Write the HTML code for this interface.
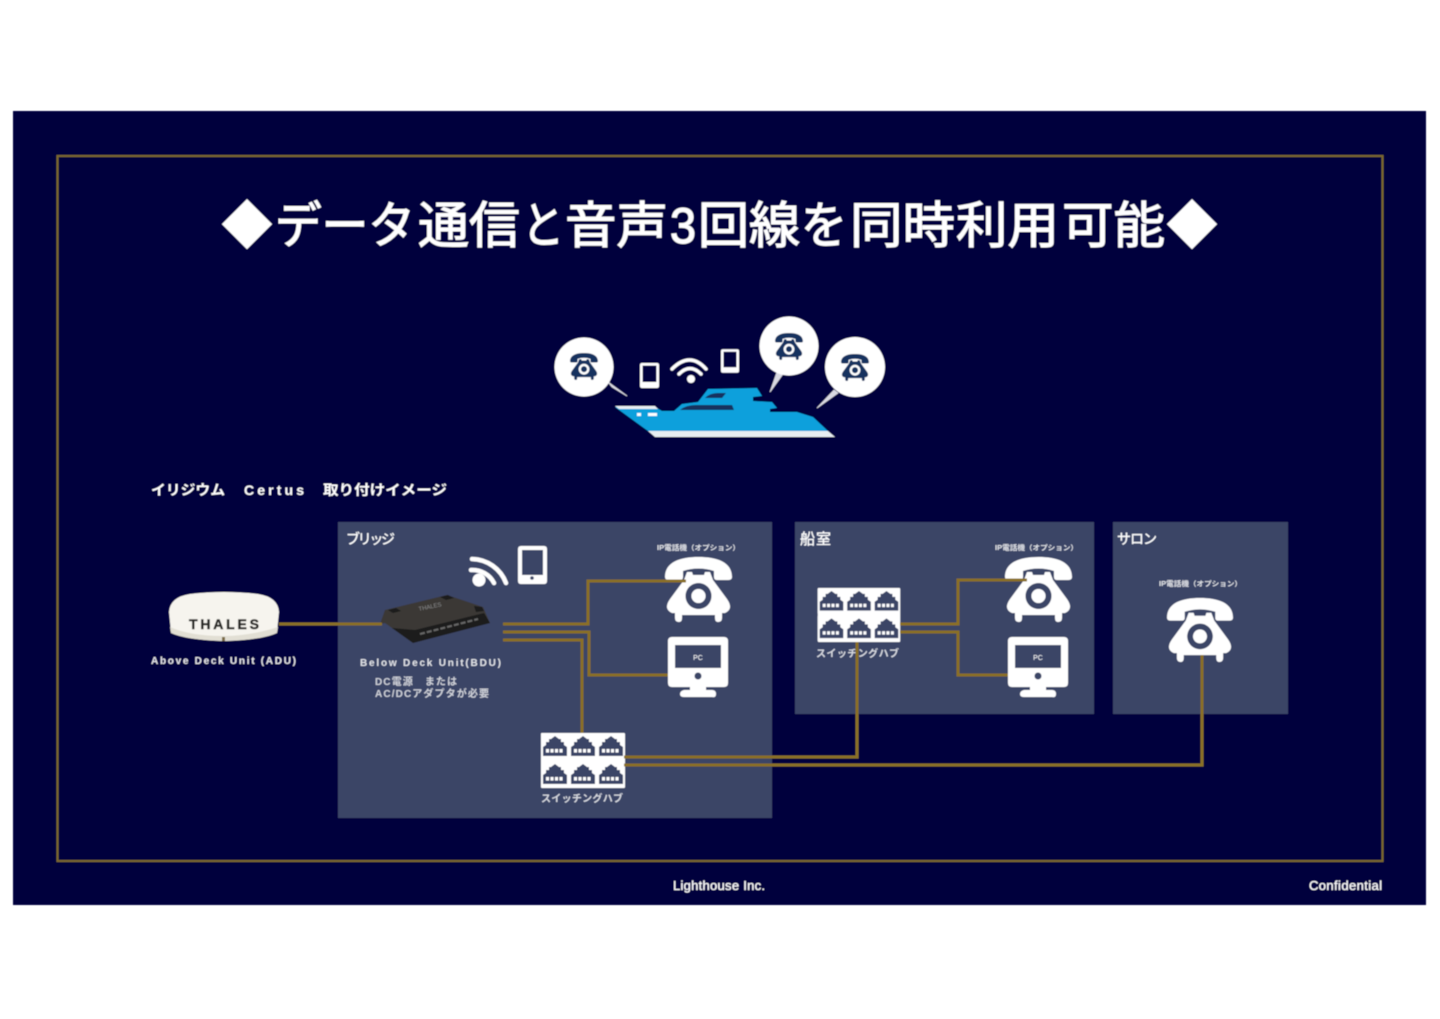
<!DOCTYPE html>
<html lang="ja"><head><meta charset="utf-8"><title>データ通信と音声3回線を同時利用可能</title>
<style>
html,body{margin:0;padding:0;background:#fff;width:1440px;height:1019px;overflow:hidden}
svg{display:block;position:absolute;left:0;top:0}
text{font-family:"Liberation Sans","Noto Sans CJK JP",sans-serif;fill:#fff}
.b{font-weight:700}
.t{font-weight:400;stroke:#fff;stroke-width:1}
.g{fill:none;stroke:#8a6f25;stroke-width:3}
</style></head><body>
<svg width="1440" height="1019" viewBox="0 0 1440 1019" xmlns="http://www.w3.org/2000/svg">
<defs>
<filter id="s" x="-2%" y="-2%" width="104%" height="104%"><feGaussianBlur stdDeviation="0.6"/></filter>
<symbol id="phone" viewBox="0 0 67 65" overflow="visible">
<path d="M0 20C0 5 15 0 33.500 0C52 0 67 5 67 20Q67 23 63 23H52Q49 23 49 20V14Q33.500 9 18 14V20Q18 23 15 23H4Q0 23 0 20Z"/>
<path fill-rule="evenodd" d="M19 23L22 15H27L28 18H39L40 15H45L48 23L62 42Q69 52 60 56H57V61Q57 65 53 65Q50 65 50 61V58H17V61Q17 65 14 65Q10 65 10 61V56H7Q-2 52 5 42ZM33.500 26a13 13 0 1 0 .01 0ZM33.500 32a7 7 0 1 1 -.01 0Z"/>
<circle cx="33.500" cy="39" r="7"/>
</symbol>
<symbol id="pc" viewBox="0 0 60 60" overflow="visible">
<path fill-rule="evenodd" d="M4 0H56Q60 0 60 4V46Q60 50 56 50H4Q0 50 0 46V4Q0 0 4 0ZM7 8V31H53V8Z"/>
<circle cx="30" cy="39" r="3.500" fill="#3b4566"/>
<path d="M22 49H38V53H44Q48 53 48 57T44 60H16Q12 60 12 57T16 53H22Z"/>
</symbol>
<symbol id="cell" viewBox="0 0 28 27" overflow="visible">
<rect width="27.500" height="26.500" fill="#fff" rx="1"/>
<path d="M14 3L18 6H20V9H23V12L26 14V23H2V14L5 12V9H8V6H10Z" fill="#3b4566"/>
<g fill="#fff"><rect x="5" y="16" width="3" height="3.500"/><rect x="9.500" y="16" width="3" height="3.500"/><rect x="14" y="16" width="3" height="3.500"/><rect x="18.500" y="16" width="3" height="3.500"/></g>
</symbol>
<symbol id="hub" viewBox="0 0 84 55" overflow="visible">
<rect width="84" height="55" fill="#fff" rx="1"/>
<use href="#cell" width="28" height="27"/><use href="#cell" x="28" width="28" height="27"/><use href="#cell" x="56" width="28" height="27"/>
<use href="#cell" y="28" width="28" height="27"/><use href="#cell" x="28" y="28" width="28" height="27"/><use href="#cell" x="56" y="28" width="28" height="27"/>
</symbol>
<symbol id="tablet" viewBox="0 0 29 38" overflow="visible">
<path fill-rule="evenodd" d="M3 0H26Q29 0 29 3V35Q29 38 26 38H3Q0 38 0 35V3Q0 0 3 0ZM4 4V29H25V4Z"/>
</symbol>
</defs>

<g filter="url(#s)">
<rect x="13" y="111" width="1413" height="794" fill="#04043c"/>
<rect x="57.500" y="156" width="1325" height="705" fill="none" stroke="#7a682f" stroke-width="2"/>

<g font-size="50">
<text class="t" x="222" y="243" textLength="50" lengthAdjust="spacingAndGlyphs">◆</text>
<text class="t" x="275" y="243" textLength="140" lengthAdjust="spacingAndGlyphs">データ</text>
<text class="t" x="418" y="243" textLength="102" lengthAdjust="spacingAndGlyphs">通信</text>
<text class="t" x="522" y="243" textLength="42" lengthAdjust="spacingAndGlyphs">と</text>
<text class="t" x="565" y="243" textLength="103" lengthAdjust="spacingAndGlyphs">音声</text>
<text class="t" x="670" y="243" textLength="26" lengthAdjust="spacingAndGlyphs">3</text>
<text class="t" x="698" y="243" textLength="102" lengthAdjust="spacingAndGlyphs">回線</text>
<text class="t" x="801" y="243" textLength="46" lengthAdjust="spacingAndGlyphs">を</text>
<text class="t" x="850" y="243" textLength="105" lengthAdjust="spacingAndGlyphs">同時</text>
<text class="t" x="956" y="243" textLength="103" lengthAdjust="spacingAndGlyphs">利用</text>
<text class="t" x="1062" y="243" textLength="103" lengthAdjust="spacingAndGlyphs">可能</text>
<text class="t" x="1167" y="243" textLength="50" lengthAdjust="spacingAndGlyphs">◆</text>
</g>

<!-- ship -->
<path d="M615 407H655L662 411H674L682 404L698 402L708 389L757 388L762 396L753 397V401L772 402L777 408L770 409V412H797L813 417L828 431H648Z" fill="#0aa0dc"/>
<path d="M648 431H828L835 437H655Z" fill="#e8eef2"/>
<path d="M615 406H655L658 409H619Z" fill="#e8eef2"/>
<path d="M705 398Q710 393 718 393H726L722 398Z" fill="#17305e"/>
<path d="M680 410Q686 405 696 405H732L734 410Z" fill="#17305e"/>
<rect x="637" y="413" width="4" height="3" fill="#fff"/><rect x="648" y="413" width="9" height="3" fill="#fff"/>
<path d="M608 382L627 396L612 387Z" fill="#fff" stroke="#fff" stroke-width=".8" opacity=".85"/>
<path d="M777 372L770 392L783 374Z" fill="#fff" stroke="#fff" stroke-width=".8" opacity=".85"/>
<path d="M834 390L817 408L838 393Z" fill="#fff" stroke="#fff" stroke-width=".8" opacity=".85"/>
<circle cx="584" cy="367" r="29.500" fill="#fff"/>
<circle cx="789" cy="346" r="29.500" fill="#fff"/>
<circle cx="855" cy="367" r="30" fill="#fff"/>
<use href="#phone" x="570" y="353" width="28" height="27" fill="#17305e"/>
<use href="#phone" x="775" y="333" width="28" height="27" fill="#17305e"/>
<use href="#phone" x="841" y="354" width="28" height="27" fill="#17305e"/>
<use href="#tablet" x="640" y="363" width="19" height="25" fill="#fff"/>
<use href="#tablet" x="721" y="349" width="18" height="24" fill="#fff"/>
<circle cx="691" cy="379" r="4" fill="#fff"/>
<path d="M672 369Q690 351 706 369M679 374Q690 363 701 374" fill="none" stroke="#fff" stroke-width="3.400" stroke-linecap="round"/>

<text class="b" x="151" y="495" font-size="14" textLength="74" lengthAdjust="spacingAndGlyphs">イリジウム</text>
<text class="b" x="244" y="495" font-size="14" textLength="60" lengthAdjust="spacing">Certus</text>
<text class="b" x="323" y="495" font-size="14" textLength="124" lengthAdjust="spacingAndGlyphs">取り付けイメージ</text>

<!-- panels -->
<rect x="338" y="522" width="434" height="296" fill="#3b4566"/>
<rect x="795" y="522" width="299" height="192" fill="#3b4566"/>
<rect x="1113" y="522" width="175" height="192" fill="#3b4566"/>
<text x="346" y="544" font-size="14" textLength="49" lengthAdjust="spacing" stroke="#fff" stroke-width=".3">ブリッジ</text>
<text x="800" y="544" font-size="15" textLength="31" lengthAdjust="spacing" stroke="#fff" stroke-width=".3">船室</text>
<text x="1117" y="544" font-size="14" textLength="40" lengthAdjust="spacing" stroke="#fff" stroke-width=".3">サロン</text>

<!-- dome -->
<path d="M169 612Q170 597 190 594Q224 590 258 594Q278 597 279 612L277 632Q262 640 224 641Q186 640 171 632Z" fill="#f6f4ee"/>
<path d="M171 633Q186 640 224 641Q262 640 277 633L278 627Q250 636 224 636Q190 636 170 627Z" fill="#e2dfd4"/>
<text class="b" x="189" y="629" font-size="14" textLength="70" lengthAdjust="spacing" stroke="#222" stroke-width=".5" style="fill:#2a2a28">THALES</text>
<rect x="222" y="637" width="3" height="4" fill="#7a6a45"/>
<text class="b" x="151" y="664" font-size="10" textLength="145" lengthAdjust="spacing" opacity=".9">Above Deck Unit (ADU)</text>

<!-- BDU -->
<path d="M385 610L447 595L483 607L490 623L413 643L385 623L380 624Z" fill="#3a3836"/>
<path d="M392 628L413 643L490 623L484 613L415 630Z" fill="#1f1e1d"/>
<path d="M388 610l8-2 5 3-8 2ZM440 597l8-2 6 3-8 2ZM474 606l8 1 2 4-8 1Z" fill="#1a1a1a"/>
<path d="M420 634L478 619" stroke="#666" stroke-width="2" stroke-dasharray="5 2"/>
<text x="419" y="611" font-size="6" transform="rotate(-12 419 611)" style="fill:#888">THALES</text>
<text class="b" x="360" y="666" font-size="10" textLength="141" lengthAdjust="spacing" opacity=".85">Below Deck Unit(BDU)</text>
<text class="b" x="375" y="685" font-size="10" textLength="82" lengthAdjust="spacing" opacity=".75">DC電源　または</text>
<text class="b" x="375" y="697" font-size="10" textLength="114" lengthAdjust="spacing" opacity=".75">AC/DCアダプタが必要</text>

<!-- wifi + tablet -->
<circle cx="479" cy="580" r="6.500" fill="#fff"/>
<path d="M471 570A24 24 0 0 1 494 583M472 559A37 37 0 0 1 506 583" fill="none" stroke="#fff" stroke-width="4.500" stroke-linecap="round"/>
<use href="#tablet" x="518" y="546" width="29" height="38" fill="#fff"/>
<circle cx="532" cy="578" r="1.800" fill="#3b4566"/>

<!-- devices -->
<use href="#phone" x="665" y="557" width="67" height="65" fill="#fff"/>
<use href="#pc" x="668" y="637" width="60" height="60" fill="#fff"/>
<text x="698" y="660" font-size="7" text-anchor="middle">PC</text>
<text class="b" x="657" y="550" font-size="7" textLength="83" lengthAdjust="spacingAndGlyphs" opacity=".85">IP電話機（オプション）</text>

<use href="#phone" x="1005" y="557" width="67" height="65" fill="#fff"/>
<use href="#pc" x="1008" y="637" width="60" height="60" fill="#fff"/>
<text x="1038" y="660" font-size="7" text-anchor="middle">PC</text>
<text class="b" x="995" y="550" font-size="7" textLength="83" lengthAdjust="spacingAndGlyphs" opacity=".85">IP電話機（オプション）</text>

<use href="#phone" x="1167" y="598" width="66" height="64" fill="#fff"/>
<text class="b" x="1159" y="586" font-size="7" textLength="83" lengthAdjust="spacingAndGlyphs" opacity=".85">IP電話機（オプション）</text>

<!-- hubs -->
<use href="#hub" x="541" y="733" width="84" height="55"/>
<text class="b" x="541" y="802" font-size="10" textLength="82" lengthAdjust="spacing" opacity=".8">スイッチングハブ</text>
<use href="#hub" x="817" y="588" width="84" height="54"/>
<text class="b" x="816" y="657" font-size="10" textLength="83" lengthAdjust="spacing" opacity=".8">スイッチングハブ</text>

<!-- connectors -->
<path class="g" d="M279 624H382"/>
<path class="g" d="M503 624H588V581H686"/>
<path class="g" d="M503 632H589V675H668"/>
<path class="g" d="M503 640H582V733"/>
<path class="g" d="M624 757H857V642"/>
<path class="g" d="M624 765H1202V655"/>
<path class="g" d="M900 624H958V580H1027"/>
<path class="g" d="M900 632H958V675H1008"/>

<text x="673" y="890" font-size="13" textLength="92" lengthAdjust="spacing" stroke="#fff" stroke-width=".25">Lighthouse Inc.</text>
<text x="1309" y="890" font-size="13" textLength="73" lengthAdjust="spacing" stroke="#fff" stroke-width=".25">Confidential</text>
</g>
</svg>
</body></html>
